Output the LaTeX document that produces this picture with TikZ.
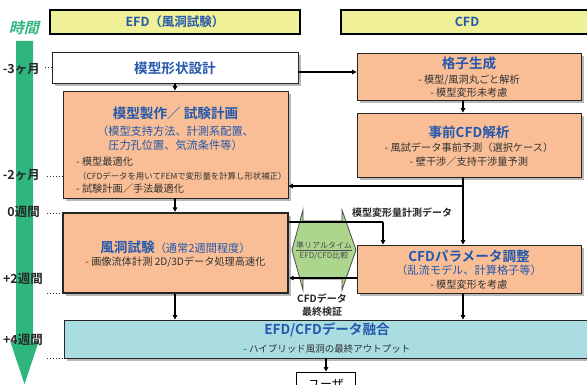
\documentclass[tikz,border=0pt]{standalone}
\usepackage{fontspec}
\setmainfont{Noto Sans CJK JP}[BoldFont={Noto Sans CJK JP Bold}]
\newfontfamily\jpslant{Noto Sans CJK JP Bold}[FakeSlant=0.25]
\usetikzlibrary{arrows.meta,shadows}
\definecolor{ttl}{RGB}{35,88,172}
\definecolor{subtxt}{RGB}{50,50,50}
\definecolor{orangefill}{RGB}{250,190,150}
\definecolor{yellowfill}{RGB}{240,240,152}
\definecolor{cyanfill}{RGB}{170,221,226}
\definecolor{hexgreen}{RGB}{172,214,142}
\definecolor{timegreen}{RGB}{46,182,126}
\definecolor{shgray}{RGB}{185,185,185}
\tikzset{
  box/.style={draw=black!85, line width=0.9pt, inner sep=0pt, rectangle,
    drop shadow={shadow xshift=3pt, shadow yshift=-3pt, fill=shgray, opacity=1}},
  hdr/.style={draw=black, line width=1.1pt, fill=yellowfill, inner sep=0pt, rectangle},
  ttltext/.style={font=\bfseries\fontsize{13.6}{15}\selectfont, text=ttl, inner sep=0pt},
  paren/.style={font=\fontsize{11.2}{14}\selectfont, text=ttl, inner sep=0pt, align=center},
  subline/.style={font=\fontsize{10.2}{12}\selectfont, text=subtxt, inner sep=0pt},
  smallsub/.style={font=\fontsize{8.4}{10}\selectfont, text=subtxt, inner sep=0pt},
  tlabel/.style={font=\bfseries\fontsize{12.5}{14}\selectfont, text=black!85, inner sep=0pt, anchor=east},
  dotline/.style={dotted, line width=0.9pt, black!80},
  arr/.style={draw=black, line width=1.1pt, -{Triangle[length=4.5pt,width=4.5pt]}},
  plainline/.style={draw=black, line width=1.1pt},
  blabel/.style={font=\bfseries\fontsize{9.5}{12}\selectfont, text=black!85, inner sep=0pt, align=center}
}
\begin{document}
\begin{tikzpicture}[x=1pt,y=-1pt]
\useasboundingbox (0,0) rectangle (587,385);

% time arrow
\fill[timegreen] (16,41) -- (33,41) -- (33,342) -- (38.5,342) -- (24.5,384) -- (10.5,342) -- (16,342) -- cycle;
\node[font=\jpslant\fontsize{15}{17}\selectfont, text=timegreen, inner sep=0pt] (jikan) at (24,28) {時間};

% headers
\node[hdr, minimum width=250pt, minimum height=24pt] (efdh) at (175,22) {};
\node[ttltext, font=\bfseries\fontsize{12.5}{14}\selectfont] (efdht) at (175,22) {EFD（風洞試験）};
\node[hdr, minimum width=252pt, minimum height=24pt] (cfdh) at (467,22) {};
\node[ttltext, font=\bfseries\fontsize{12.5}{14}\selectfont] (cfdht) at (467,22) {CFD};

% boxes
\node[box, fill=white, minimum width=246pt, minimum height=31pt] (shape) at (175,67.5) {};
\node[ttltext] (shapet) at (175,68) {模型形状設計};

\node[box, fill=orangefill, minimum width=224pt, minimum height=47pt] (koshi) at (469,76.5) {};
\node[ttltext] (koshit) at (469,63) {格子生成};
\node[subline] (koshi1) at (469,80) {- 模型/風洞丸ごと解析};
\node[subline] (koshi2) at (469,93) {- 模型変形未考慮};

\node[box, fill=orangefill, minimum width=225pt, minimum height=107pt] (seisaku) at (175.5,144.5) {};
\node[ttltext] (seisakut) at (175.5,113) {模型製作／ 試験計画};
\node[paren] (seisakup) at (175.5,138.5) {（模型支持方法、計測系配置、\\圧力孔位置、気流条件等）};
\node[subline, anchor=west] (seisaku1) at (76,162) {- 模型最適化};
\node[smallsub, anchor=west] (seisaku2) at (78,176) {（CFDデータを用いてFEMで変形量を計算し形状補正）};
\node[subline, anchor=west] (seisaku3) at (76,188.5) {- 試験計画／手法最適化};

\node[box, fill=orangefill, minimum width=224pt, minimum height=64pt] (jizen) at (469,145) {};
\node[ttltext] (jizent) at (469,132) {事前CFD解析};
\node[subline] (jizen1) at (469,148) {- 風試データ事前予測（選択ケース）};
\node[subline] (jizen2) at (469,162) {- 壁干渉／支持干渉量予測};

\node[box, fill=orangefill, line width=2.4pt, minimum width=225pt, minimum height=80pt] (fudo) at (175.5,253) {};
\node[inner sep=0pt] (fudot) at (175.5,247) {{\bfseries\fontsize{13.6}{15}\selectfont\color{ttl}風洞試験}{\fontsize{11.2}{14}\selectfont\color{ttl}（通常2週間程度）}};
\node[subline] (fudo1) at (175.5,262) {- 画像流体計測 2D/3Dデータ処理高速化};

\node[box, fill=orangefill, minimum width=224pt, minimum height=48pt] (param) at (469,269) {};
\node[ttltext] (paramt) at (469,256.5) {CFDパラメータ調整};
\node[paren] (paramp) at (469,270.5) {（乱流モデル、計算格子等）};
\node[subline] (param1) at (469,285) {- 模型変形を考慮};

\node[box, fill=cyanfill, minimum width=526pt, minimum height=38pt] (yugo) at (327,339) {};
\node[ttltext] (yugot) at (327,330) {EFD/CFDデータ融合};
\node[subline, font=\fontsize{9.5}{11}\selectfont] (yugo1) at (327,349) {- ハイブリッド風洞の最終アウトプット};

\node[draw=black, line width=0.9pt, fill=white, minimum width=59pt, minimum height=24pt, inner sep=0pt,
  font=\fontsize{12}{14}\selectfont] (user) at (326,384) {ユーザ};

% double arrow shape
\draw[fill=hexgreen, draw=black!70, line width=0.8pt]
  (292,250) -- (303,210) -- (303,221) -- (342,221) -- (342,210) -- (356,250)
  -- (342,290) -- (342,279) -- (303,279) -- (303,290) -- cycle;
\node[font=\fontsize{8}{10}\selectfont, text=black!70, inner sep=0pt, align=center] (hext) at (324,250.5)
  {\underline{準リアルタイム}\\EFD/CFD比較};

% labels
\node[blabel, font=\bfseries\fontsize{10}{12}\selectfont] (lab1) at (402,213) {模型変形量計測データ};
\node[blabel, font=\bfseries\fontsize{10}{13}\selectfont] (lab2) at (322,305) {CFDデータ\\最終検証};

% coordinates
\coordinate (ya) at (0,72);
\coordinate (xl) at (175,0);
\coordinate (xr) at (463,0);
\coordinate (xm) at (383,0);
\coordinate (yj) at (0,186);
\coordinate (yu) at (0,222);
\coordinate (yl) at (0,278);
\coordinate (junc) at (463,186);
\coordinate (bend) at (383,222);

% connectors
\draw[arr] (shape.east |- ya) -- (koshi.west |- ya);
\draw[arr] (shape.south -| xl) -- (seisaku.north -| xl);
\draw[arr] (seisaku.south -| xl) -- (fudo.north -| xl);
\draw[arr] (fudo.south -| xl) -- (yugo.north -| xl);
\draw[arr] (koshi.south -| xr) -- (jizen.north -| xr);
\draw[arr] (jizen.south -| xr) -- (param.north -| xr);
\draw[arr] (junc) -- (seisaku.east |- yj);
\draw[arr] (param.south -| xr) -- (yugo.north -| xr);
\draw[plainline] (fudo.east |- yu) -- (bend);
\draw[arr] (bend) -- (param.north -| xm);
\draw[arr] (param.west |- yl) -- (fudo.east |- yl);
\draw[arr] (yugo.south -| user) -- (user.north);

% time labels
\node[tlabel] (t1) at (40,69) {-3ヶ月};
\node[tlabel] (t2) at (40,175.5) {-2ヶ月};
\node[tlabel] (t3) at (40,212) {0週間};
\node[tlabel] (t4) at (43,279) {+2週間};
\node[tlabel] (t5) at (43,340) {+4週間};
\coordinate (d1) at (45,67);
\coordinate (d2) at (47,176);
\coordinate (d3) at (47,213);
\coordinate (d4) at (47,293);
\coordinate (d5) at (47,358);
\draw[dotline] (d1) -- (d1 -| shape.west);
\draw[dotline] (d2) -- (d2 -| seisaku.west);
\draw[dotline] (d3) -- (d3 -| fudo.west);
\draw[dotline] (d4) -- (d4 -| fudo.west);
\draw[dotline] (d5) -- (d5 -| yugo.west);
\end{tikzpicture}
\end{document}
